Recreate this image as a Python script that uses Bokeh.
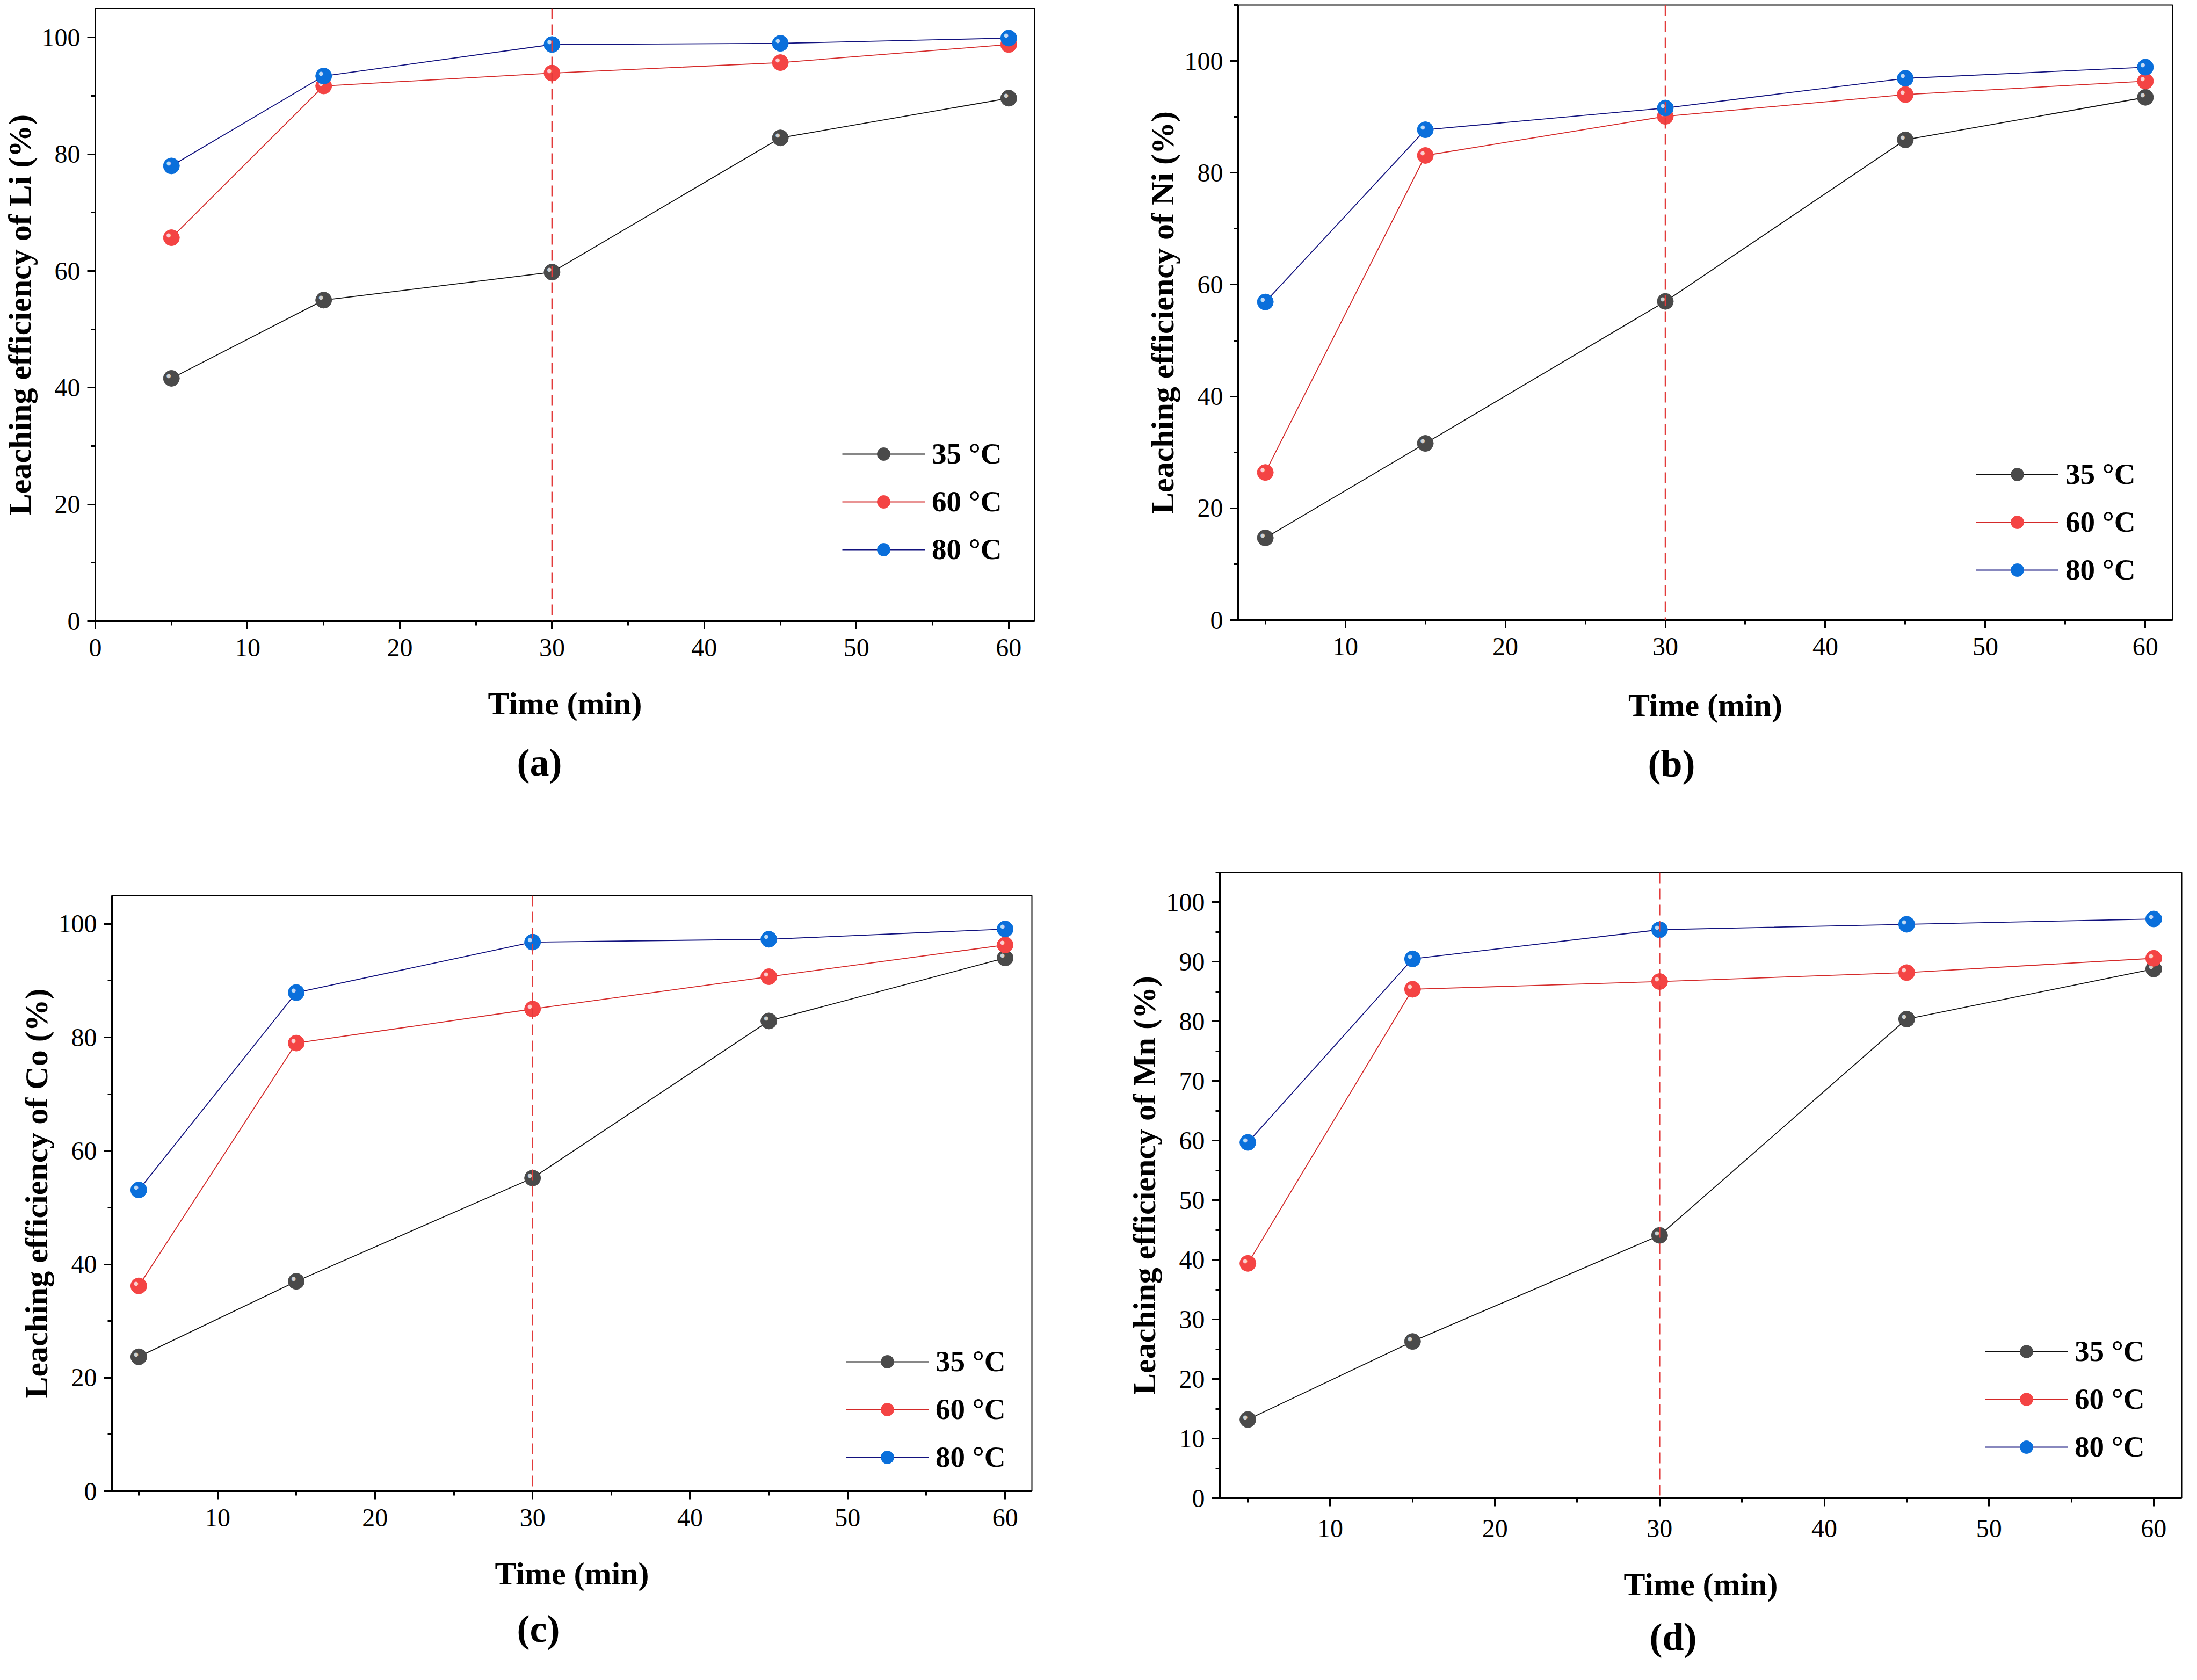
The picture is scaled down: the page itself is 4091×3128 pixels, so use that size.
from bokeh.plotting import figure
from bokeh.models import Range1d, SingleIntervalTicker, Span, Legend, LegendItem, Title
from bokeh.layouts import row, column
from bokeh.embed import file_html
from bokeh.resources import INLINE
from bokeh.core.properties import value

# ---------------- data ----------------
time_min = [5, 15, 30, 45, 60]
temp_labels = ["35 °C", "60 °C", "80 °C"]

li_35 = [41.6, 55.0, 59.8, 82.8, 89.6]
li_60 = [65.7, 91.7, 93.9, 95.7, 98.8]
li_80 = [78.0, 93.4, 98.8, 99.0, 99.9]

ni_35 = [14.7, 31.6, 57.0, 85.9, 93.5]
ni_60 = [26.4, 83.1, 90.1, 94.0, 96.4]
ni_80 = [56.9, 87.7, 91.6, 96.9, 98.9]

co_35 = [23.7, 37.0, 55.2, 82.9, 94.0]
co_60 = [36.2, 79.0, 85.0, 90.7, 96.3]
co_80 = [53.1, 87.9, 96.8, 97.3, 99.1]

mn_35 = [13.2, 26.3, 44.1, 80.4, 88.8]
mn_60 = [39.4, 85.4, 86.7, 88.2, 90.6]
mn_80 = [59.7, 90.5, 95.4, 96.3, 97.2]

cutoff_time = 30

# ---------------- styles ----------------
LINE_COLORS = ["#111111", "#d42a2a", "#12127e"]
MARKER_COLORS = ["#4a4a4a", "#f44444", "#0a6fdb"]
SERIF = "Liberation Serif"

panels = [
    dict(elem="Li", tag="(a)", series=[li_35, li_60, li_80], w=2037, h=1556,
         bl=177, br=111, bt=15, bb=400, xr=(0, 61.7), yr=(0, 105), yint=20,
         leg=(1391, 102), tagoff=785, tagst=64, ts=18, xstand=52),
    dict(elem="Ni", tag="(b)", series=[ni_35, ni_60, ni_80], w=2037, h=1556,
         bl=268, br=29, bt=9, bb=402, xr=(3.3, 61.7), yr=(0, 110), yint=20,
         leg=(1374, 62), tagoff=763, tagst=62, ts=18, xstand=57),
    dict(elem="Co", tag="(c)", series=[co_35, co_60, co_80], w=2037, h=1556,
         bl=208, br=116, bt=111, bb=336, xr=(3.3, 61.7), yr=(0, 105), yint=20,
         leg=(1367, 32), tagoff=754, tagst=50, ts=18, xstand=52),
    dict(elem="Mn", tag="(d)", series=[mn_35, mn_60, mn_80], w=2037, h=1556,
         bl=234, br=12, bt=68, bb=323, xr=(3.3, 61.7), yr=(0, 105), yint=10,
         leg=(1425, 64), tagoff=800, tagst=41, ts=25, xstand=52),
]


def make_panel(cfg):
    p = figure(width=cfg["w"], height=cfg["h"],
               x_range=Range1d(*cfg["xr"]), y_range=Range1d(*cfg["yr"]),
               output_backend="svg", toolbar_location=None,
               min_border_left=cfg["bl"], min_border_right=cfg["br"],
               min_border_top=cfg["bt"], min_border_bottom=cfg["bb"])
    p.xgrid.visible = False
    p.ygrid.visible = False
    p.outline_line_color = "black"
    p.outline_line_width = 2
    p.outline_line_alpha = 1
    p.background_fill_color = "white"
    p.border_fill_color = "white"

    p.xaxis.ticker = SingleIntervalTicker(interval=10, num_minor_ticks=2)
    p.yaxis.ticker = SingleIntervalTicker(interval=cfg["yint"], num_minor_ticks=2)
    for ax in (p.xaxis, p.yaxis):
        ax.axis_line_width = 3
        ax.axis_line_color = "black"
        ax.major_tick_line_width = 3
        ax.minor_tick_line_width = 3
        ax.major_tick_out = 15
        ax.major_tick_in = 0
        ax.minor_tick_out = 8
        ax.minor_tick_in = 0
        ax.major_label_text_font = SERIF
        ax.major_label_text_font_size = "48px"
        ax.major_label_text_color = "black"
        ax.axis_label_text_font = SERIF
        ax.axis_label_text_font_size = "60px"
        ax.axis_label_text_font_style = "bold"
        ax.axis_label_text_color = "black"
    p.xaxis.axis_label = "Time (min)"
    p.yaxis.axis_label = "Leaching efficiency of %s (%%)" % cfg["elem"]
    p.xaxis.major_label_standoff = cfg["ts"]
    p.yaxis.major_label_standoff = 13
    p.xaxis.axis_label_standoff = cfg["xstand"]
    p.yaxis.axis_label_standoff = 5

    p.add_layout(Span(location=cutoff_time, dimension="height",
                      line_color="#e23b3b", line_dash="20 10", line_width=2.5))

    items = []
    for i, ys in enumerate(cfg["series"]):
        lr = p.line(time_min, ys, line_color=LINE_COLORS[i], line_width=1.8)
        sr = p.scatter(time_min, ys, size=30, marker="circle",
                       fill_color=MARKER_COLORS[i], line_color=MARKER_COLORS[i],
                       line_width=1)
        p.text(time_min, ys, text=["●"] * len(ys), text_font=value("DejaVu Sans"),
               text_font_size="10px", text_color="white", text_alpha=0.75,
               text_align="center", text_baseline="middle",
               x_offset=-5, y_offset=-5)
        items.append(LegendItem(label=temp_labels[i], renderers=[lr, sr]))

    legend = Legend(items=items, location=cfg["leg"], orientation="vertical",
                    glyph_width=154, glyph_height=60, label_height=60,
                    spacing=26, padding=0, margin=0, label_standoff=13,
                    border_line_color=None, background_fill_alpha=0,
                    label_text_font=SERIF, label_text_font_size="55px",
                    label_text_font_style="bold", label_text_color="black")
    p.add_layout(legend)

    tag = Title(text=cfg["tag"], align="left", offset=cfg["tagoff"],
                standoff=cfg["tagst"], text_font=SERIF, text_font_size="72px",
                text_font_style="bold", text_color="black")
    p.add_layout(tag, "below")
    return p


figs = [make_panel(c) for c in panels]
layout = column(row(column(figs[0]), column(figs[1])),
                row(column(figs[2]), column(figs[3])))

open("out.html", "w").write(file_html(layout, INLINE))
